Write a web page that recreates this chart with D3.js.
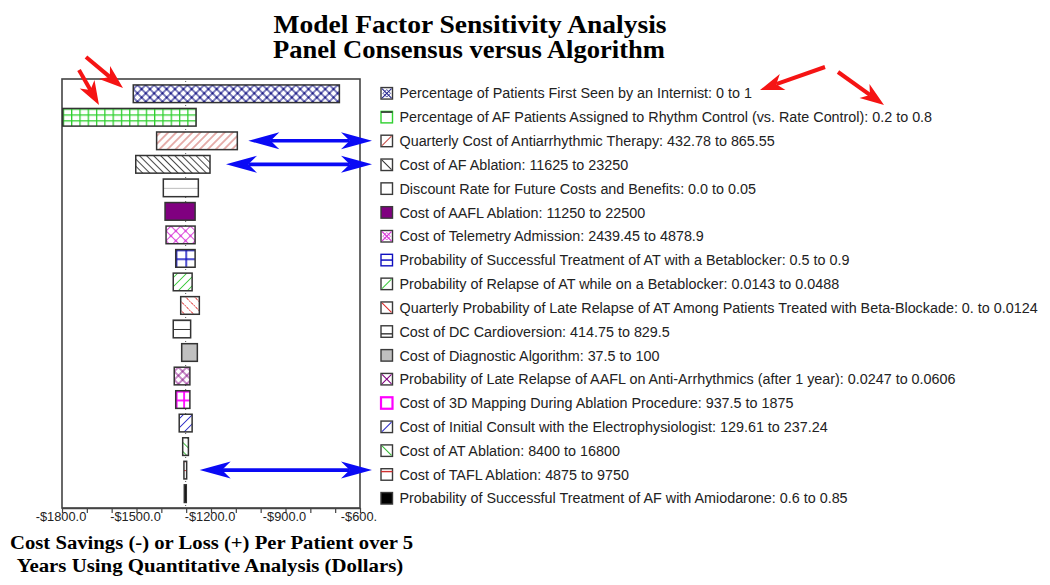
<!DOCTYPE html>
<html><head><meta charset="utf-8">
<script src="https://cdn.jsdelivr.net/npm/d3@7"></script>
<style>body{margin:0;background:#fff}</style>
</head><body>
<svg id="c" width="1050" height="585"></svg>
<script>
// ---------------- DATA ----------------
const titleLines = ["Model Factor Sensitivity Analysis", "Panel Consensus versus Algorithm"];
const axisTitleLines = ["Cost Savings (-) or Loss (+) Per Patient over 5", "Years Using Quantitative Analysis (Dollars)"];
const factors = [
  "Percentage of Patients First Seen by an Internist: 0 to 1",
  "Percentage of AF Patients Assigned to Rhythm Control (vs. Rate Control): 0.2 to 0.8",
  "Quarterly Cost of Antiarrhythmic Therapy: 432.78 to 865.55",
  "Cost of AF Ablation: 11625 to 23250",
  "Discount Rate for Future Costs and Benefits: 0.0 to 0.05",
  "Cost of AAFL Ablation: 11250 to 22500",
  "Cost of Telemetry Admission: 2439.45 to 4878.9",
  "Probability of Successful Treatment of AT with a Betablocker: 0.5 to 0.9",
  "Probability of Relapse of AT while on a Betablocker: 0.0143 to 0.0488",
  "Quarterly Probability of Late Relapse of AT Among Patients Treated with Beta-Blockade: 0. to 0.0124",
  "Cost of DC Cardioversion: 414.75 to 829.5",
  "Cost of Diagnostic Algorithm: 37.5 to 100",
  "Probability of Late Relapse of AAFL on Anti-Arrhythmics (after 1 year): 0.0247 to 0.0606",
  "Cost of 3D Mapping During Ablation Procedure: 937.5 to 1875",
  "Cost of Initial Consult with the Electrophysiologist: 129.61 to 237.24",
  "Cost of AT Ablation: 8400 to 16800",
  "Cost of TAFL Ablation: 4875 to 9750",
  "Probability of Successful Treatment of AF with Amiodarone: 0.6 to 0.85"
];
const barMin = [-1513, -1797, -1419, -1503, -1392, -1385, -1381, -1342, -1352, -1322, -1352, -1318, -1348, -1342, -1328, -1314, -1309, -1307.5];
const barMax = [-683, -1260, -1094, -1204, -1251, -1264, -1264, -1264, -1276, -1247, -1282, -1255, -1285, -1285, -1276, -1291, -1298, -1299.5];
const baseValue = -1302;
const xDomain = [-1800, -600];
const tickValues = [-1800, -1700, -1600, -1500, -1400, -1300, -1200, -1100, -1000, -900, -800, -700, -600];
const labeledTicks = [-1800, -1500, -1200, -900, -600];
const tickLabels = ["-$1800.0", "-$1500.0", "-$1200.0", "-$900.0", "-$600."];
// annotation arrows: which factor rows get blue double arrows
const blueArrowRows = [2, 3, 16];

// ---------------- STYLES ----------------
const styles = [
  {type:"cross", color:"#22228c", s:5.9, dots:true, lw:1.15},
  {type:"grid", color:"#2fd02f", w:8.3, hDiv:3, lw:1.3, legStroke:"#2fd02f"},
  {type:"hatchR", color:"#c8504a", s:5.7},
  {type:"hatchL", color:"#333", s:5.0},
  {type:"hline", color:"#bbbbbb", legLine:null},
  {type:"solid", color:"#800080"},
  {type:"cross", color:"#d838d8", s:6.9, dots:true},
  {type:"grid", color:"#1010c0", w:9.7, hDiv:2, lw:1.5, legStroke:"#1010c0", legMid:true},
  {type:"hatchR", color:"#44cc44", s:6.4},
  {type:"hatchL", color:"#dd2a2a", s:6.4, dash:"1.5,1"},
  {type:"hline", color:"#333", legLine:0.7},
  {type:"solid", color:"#c0c0c0"},
  {type:"cross", color:"#800080", s:5.9, dots:false},
  {type:"grid", color:"#ff00ff", w:7.5, hDiv:2, lw:1.8, legStroke:"#ff00ff", legThick:true},
  {type:"hatchR", color:"#3030c8", s:6.4},
  {type:"hatchL", color:"#33bb33", s:6.4},
  {type:"hline", color:"#d03030", legLine:0.25},
  {type:"solid", color:"#000000"}
];

// ---------------- CHART ----------------
const svg = d3.select("#c");
const defs = svg.append("defs");
const plot = {left:62, right:360, top:79, bottom:508};

const x = d3.scaleLinear().domain(xDomain).range([plot.left, plot.right]);
const y = d3.scaleBand().domain(factors).range([82, 505.4]).paddingInner(0.25).paddingOuter(0.125);
const yLeg = d3.scaleBand().domain(factors).range([81.4, 510.2]);

// titles (serif bold, condensed to the measured widths)
const tt = svg.append("g").attr("font-family", "'Liberation Serif','Times New Roman',serif").attr("font-weight", "bold").attr("fill", "#000").attr("text-anchor", "middle");
function fitLine(xc, yb, fs, txt, width) {
  tt.append("text").attr("x", xc).attr("y", yb).attr("font-size", fs)
    .attr("textLength", width).attr("lengthAdjust", "spacingAndGlyphs").text(txt);
}
fitLine(470, 32.7, 25, titleLines[0], 393);
fitLine(469, 57.5, 25, titleLines[1], 392);
fitLine(211.5, 549, 18.5, axisTitleLines[0], 403);
fitLine(210, 571.5, 18.5, axisTitleLines[1], 386.6);

// frame
svg.append("rect").attr("x", plot.left).attr("y", plot.top)
  .attr("width", plot.right - plot.left).attr("height", plot.bottom - plot.top)
  .attr("fill", "#fff").attr("stroke", "#444").attr("stroke-width", 1.6);

// dotted base line
svg.append("line").attr("x1", x(baseValue)).attr("x2", x(baseValue))
  .attr("y1", plot.top + 2).attr("y2", plot.bottom)
  .attr("stroke", "#555").attr("stroke-width", 1).attr("stroke-dasharray", "1,3");

// patterns
function makePattern(i, st, x0, y0, bw) {
  const id = "pat" + i;
  const p = defs.append("pattern").attr("id", id).attr("patternUnits", "userSpaceOnUse");
  if (st.type === "hatchR" || st.type === "hatchL" || st.type === "cross") {
    const s = st.s, lw = st.lw || 0.9;
    p.attr("width", s).attr("height", s).attr("x", x0).attr("y", y0)
      .attr("patternTransform", `rotate(${st.type === "hatchL" ? -45 : 45} ${x0} ${y0})`);
    p.append("rect").attr("width", s).attr("height", s).attr("fill", "#fff");
    p.append("line").attr("x1", s/2).attr("x2", s/2).attr("y1", 0).attr("y2", s)
      .attr("stroke", st.color).attr("stroke-width", lw).attr("stroke-dasharray", st.dash || null);
    if (st.type === "cross") {
      p.append("line").attr("x1", 0).attr("x2", s).attr("y1", s/2).attr("y2", s/2)
        .attr("stroke", st.color).attr("stroke-width", lw);
      if (st.dots) p.append("circle").attr("cx", s/2).attr("cy", s/2).attr("r", 1.2).attr("fill", st.color);
    }
  } else if (st.type === "grid") {
    const w = st.w, h = bw / st.hDiv;
    p.attr("width", w).attr("height", h).attr("x", x0).attr("y", y0);
    p.append("rect").attr("width", w).attr("height", h).attr("fill", "#fff");
    p.append("line").attr("x1", 0).attr("x2", 0).attr("y1", 0).attr("y2", h).attr("stroke", st.color).attr("stroke-width", st.lw * 2);
    p.append("line").attr("x1", 0).attr("x2", w).attr("y1", 0).attr("y2", 0).attr("stroke", st.color).attr("stroke-width", st.lw * 2);
  } else if (st.type === "hline") {
    const h = bw / 2;
    p.attr("width", 20).attr("height", h).attr("x", x0).attr("y", y0);
    p.append("rect").attr("width", 20).attr("height", h).attr("fill", "#fff");
    p.append("line").attr("x1", 0).attr("x2", 20).attr("y1", 0).attr("y2", 0).attr("stroke", st.color).attr("stroke-width", 2);
  }
  return "url(#" + id + ")";
}

const bars = svg.append("g");
factors.forEach((f, i) => {
  const st = styles[i];
  const x0 = x(barMin[i]), x1 = x(barMax[i]);
  const y0 = y(f), bw = y.bandwidth();
  const fill = st.type === "solid" ? st.color : makePattern(i, st, x0, y0, bw);
  bars.append("rect").attr("x", x0).attr("y", y0).attr("width", Math.max(1, x1 - x0)).attr("height", bw)
    .attr("fill", fill).attr("stroke", "#333").attr("stroke-width", 1.5);
});

// axis
const axis = d3.axisBottom(x).tickValues(tickValues).tickSize(5).tickSizeOuter(0)
  .tickFormat(d => { const k = labeledTicks.indexOf(d); return k >= 0 ? tickLabels[k] : ""; });
const ag = svg.append("g").attr("transform", `translate(0,${plot.bottom})`).call(axis);
ag.select(".domain").attr("stroke", "#444").attr("stroke-width", 1.6);
ag.selectAll(".tick line").attr("stroke", "#444").attr("stroke-width", 1.2);
ag.selectAll(".tick text").attr("font-family", "'Liberation Sans',Arial,sans-serif").attr("font-size", 12.8)
  .attr("fill", "#222").attr("dy", "0").attr("y", 13).attr("dx", -1.5);

// legend
const leg = svg.append("g");
const boxX = 381, boxS = 11.5, textX = 399.5;
let legFont = 13;
factors.forEach((f, i) => {
  const st = styles[i];
  const cy = yLeg(f) + yLeg.bandwidth() / 2;
  const by = cy - boxS / 2;
  const g = leg.append("g");
  const stroke = st.legStroke || "#3a3a3a";
  const fill = st.type === "solid" ? st.color : "#fff";
  g.append("rect").attr("x", boxX).attr("y", by).attr("width", boxS).attr("height", boxS)
    .attr("fill", fill).attr("stroke", stroke).attr("stroke-width", st.legThick ? 2.2 : 1.4);
  const ln = (a, b, c, d2, col, w) => g.append("line").attr("x1", a).attr("y1", b).attr("x2", c).attr("y2", d2)
    .attr("stroke", col).attr("stroke-width", w || 1.1);
  if (st.type === "hatchR" || st.type === "cross") ln(boxX + 1, by + boxS - 1, boxX + boxS - 1, by + 1, st.color);
  if (st.type === "hatchL" || st.type === "cross") ln(boxX + 1, by + 1, boxX + boxS - 1, by + boxS - 1, st.color);
  if (st.type === "cross" && st.dots) {
    g.append("path").attr("d", `M${boxX+boxS/2},${by+2}L${boxX+boxS-2},${cy}L${boxX+boxS/2},${by+boxS-2}L${boxX+2},${cy}Z`)
      .attr("fill", "none").attr("stroke", st.color).attr("stroke-width", 0.8);
  }
  if (st.type === "grid" && st.legMid) ln(boxX, cy, boxX + boxS, cy, st.color, 1.5);
  if (st.type === "grid" && !st.legMid && !st.legThick) ln(boxX, by + 0.7, boxX + boxS, by + 0.7, "#333", 1.6);
  if (st.type === "hline" && st.legLine != null) ln(boxX, by + boxS * st.legLine, boxX + boxS, by + boxS * st.legLine, st.color, 1.4);
  g.append("text").attr("class", "lt").attr("x", textX).attr("y", cy).attr("dy", "0.36em")
    .attr("font-family", "'Liberation Sans',Arial,sans-serif").attr("font-size", legFont).attr("fill", "#222").text(f);
});
// fit legend font so the first line has the measured width
const first = leg.select("text.lt");
const scaleF = 352.5 / first.node().getComputedTextLength();
leg.selectAll("text.lt").attr("font-size", (legFont * scaleF).toFixed(2));

// annotation arrows
const ann = svg.append("g");
function arrowHead(tip, from, L, H, color) {
  const dx = from[0] - tip[0], dy = from[1] - tip[1], len = Math.hypot(dx, dy);
  const ux = dx / len, uy = dy / len, nx = -uy, ny = ux;
  const pts = [tip,
    [tip[0] + ux*L + nx*H, tip[1] + uy*L + ny*H],
    [tip[0] + ux*L*0.72, tip[1] + uy*L*0.72],
    [tip[0] + ux*L - nx*H, tip[1] + uy*L - ny*H]];
  ann.append("path").attr("d", "M" + pts.map(p => p.join(",")).join("L") + "Z").attr("fill", color);
  return [tip[0] + ux*L*0.72, tip[1] + uy*L*0.72];
}
function singleArrow(from, tip, color, L, H, w) {
  const n = arrowHead(tip, from, L, H, color);
  ann.append("line").attr("x1", from[0]).attr("y1", from[1]).attr("x2", n[0]).attr("y2", n[1])
    .attr("stroke", color).attr("stroke-width", w);
}
function doubleArrow(a, b, color, L, H, w) {
  const n1 = arrowHead(a, b, L, H, color), n2 = arrowHead(b, a, L, H, color);
  ann.append("line").attr("x1", n1[0]).attr("y1", n1[1]).attr("x2", n2[0]).attr("y2", n2[1])
    .attr("stroke", color).attr("stroke-width", w);
}
const blueGaps = [11, 16, 13];
blueArrowRows.forEach((r, k) => {
  const cy = y(factors[r]) + y.bandwidth() / 2;
  doubleArrow([x(barMax[r]) + blueGaps[k], cy], [372, cy], "#0a0af5", 31, 8.5, 3.6);
});
const red = "#f51414";
singleArrow([86, 57], [123, 88], red, 24, 8.5, 4);
singleArrow([79, 70], [99, 105], red, 24, 8.5, 4);
singleArrow([825, 67], [760, 90], red, 24, 8.5, 4);
singleArrow([838, 72], [884, 105], red, 24, 8.5, 4);
</script>
</body></html>
